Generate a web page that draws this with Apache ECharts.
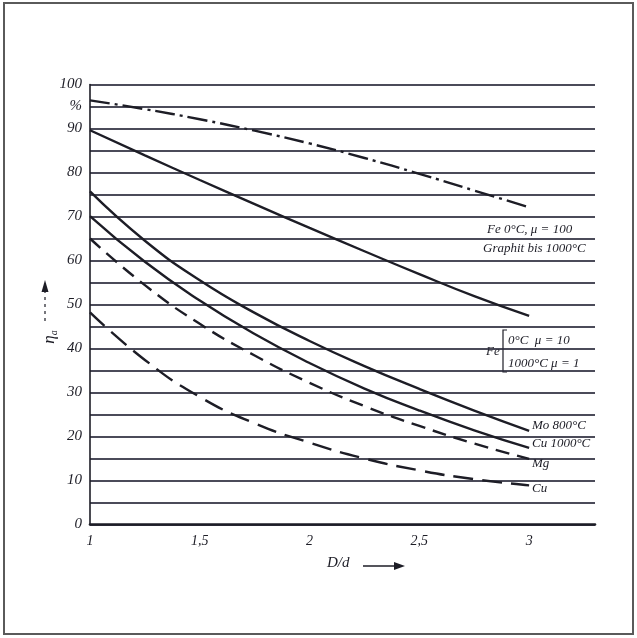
<!DOCTYPE html>
<html>
<head>
<meta charset="utf-8">
<script src="https://cdn.jsdelivr.net/npm/echarts@6/dist/echarts.min.js"></script>
<style>
  html, body { margin: 0; padding: 0; background: #fff; }
  #chart { width: 637px; height: 638px; }
</style>
</head>
<body>
<div id="chart"></div>
<script>
// Ratio D/d sampled along each curve
const xValues = [1, 1.25, 1.5, 1.75, 2, 2.25, 2.5, 2.75, 3];

// Efficiency (%) for each material
const feMu100 = [96.4, 94.4, 92.1, 89.5, 86.6, 83.3, 79.7, 75.9, 72.1];
const feMu10  = [89.6, 83.9, 78.3, 72.8, 67.4, 62.1, 56.9, 51.9, 47.4];
const mo800   = [75.7, 64.5, 55.5, 48.1, 41.7, 36.0, 30.8, 25.9, 21.3];
const cu1000  = [70.1, 59.7, 50.9, 43.3, 36.7, 30.9, 25.9, 21.4, 17.4];
const mgCold  = [65.0, 54.4, 45.6, 38.4, 32.2, 26.9, 22.4, 18.4, 14.9];
const cuCold  = [48.2, 37.4, 29.0, 23.0, 18.6, 15.0, 12.3, 10.3, 8.9];

// Axis tick labels
const xTickLabels = { 1: '1', 1.5: '1,5', 2: '2', 2.5: '2,5', 3: '3' };
const yTickLabels = { 0: '0', 10: '10', 20: '20', 30: '30', 40: '40', 50: '50',
                      60: '60', 70: '70', 80: '80', 90: '90', 95: '%', 100: '100' };

const pairs = ys => xValues.map((x, i) => [x, ys[i]]);

const INK = '#1d1d26';
const labelFont = { fontFamily: 'Liberation Serif', fontStyle: 'italic', fill: INK };

function curve(name, ys, type) {
  return {
    name, type: 'line', data: pairs(ys), smooth: 0.5, symbol: 'none',
    lineStyle: { color: INK, width: 2.4, type: type },
    z: 5
  };
}

const chart = echarts.init(document.getElementById('chart'), null, { renderer: 'canvas' });

chart.setOption({
  backgroundColor: '#ffffff',
  animation: false,
  grid: { left: 90, right: 42, top: 84.5, bottom: 113.5 },
  xAxis: {
    type: 'value', min: 1, max: 3.3, interval: 0.5,
    axisLine: { show: true, lineStyle: { color: INK, width: 2.6 } },
    axisTick: { show: false },
    splitLine: { show: false },
    axisLabel: {
      margin: 10, color: INK, fontSize: 14, fontStyle: 'italic', fontFamily: 'Liberation Serif',
      formatter: v => (xTickLabels[v] !== undefined ? xTickLabels[v] : '')
    }
  },
  yAxis: {
    type: 'value', min: 0, max: 100, interval: 5,
    axisLine: { show: true, lineStyle: { color: INK, width: 1.6 } },
    axisTick: { show: false },
    splitLine: { show: true, lineStyle: { color: '#2c2c3c', width: 2, opacity: 0.85 } },
    axisLabel: {
      margin: 8, color: INK, fontSize: 15, fontStyle: 'italic', fontFamily: 'Liberation Serif',
      formatter: v => (yTickLabels[v] !== undefined ? yTickLabels[v] : '')
    }
  },
  series: [
    curve('Fe 0°C μ=100 / Graphit', feMu100, [20, 5, 3, 5]),
    curve('Fe 0°C μ=10 / 1000°C μ=1', feMu10, 'solid'),
    curve('Mo 800°C', mo800, 'solid'),
    curve('Cu 1000°C', cu1000, 'solid'),
    curve('Mg', mgCold, [14, 8]),
    curve('Cu', cuCold, [20, 9])
  ],
  graphic: [
    // outer frame
    { type: 'rect', shape: { x: 4, y: 3, width: 629, height: 631 },
      style: { fill: 'none', stroke: '#5a5a5a', lineWidth: 2 }, silent: true },

    // curve annotations
    { type: 'text', left: 487, top: 223, style: Object.assign({ text: 'Fe 0°C, μ = 100', fontSize: 13 }, labelFont) },
    { type: 'text', left: 483, top: 242, style: Object.assign({ text: 'Graphit bis 1000°C', fontSize: 13 }, labelFont) },

    { type: 'text', left: 486, top: 345, style: Object.assign({ text: 'Fe', fontSize: 13 }, labelFont) },
    { type: 'polyline', shape: { points: [[507, 330], [503, 330], [503, 372], [507, 372]] },
      style: { stroke: INK, lineWidth: 1.2, fill: 'none' } },
    { type: 'text', left: 508, top: 334, style: Object.assign({ text: '0°C  μ = 10', fontSize: 13 }, labelFont) },
    { type: 'text', left: 508, top: 357, style: Object.assign({ text: '1000°C μ = 1', fontSize: 13 }, labelFont) },

    { type: 'text', left: 532, top: 419, style: Object.assign({ text: 'Mo 800°C', fontSize: 13 }, labelFont) },
    { type: 'text', left: 532, top: 437, style: Object.assign({ text: 'Cu 1000°C', fontSize: 13 }, labelFont) },
    { type: 'text', left: 532, top: 457, style: Object.assign({ text: 'Mg', fontSize: 13 }, labelFont) },
    { type: 'text', left: 532, top: 482, style: Object.assign({ text: 'Cu', fontSize: 13 }, labelFont) },

    // x-axis title with arrow
    { type: 'text', left: 327, top: 556, style: Object.assign({ text: 'D/d', fontSize: 15 }, labelFont) },
    { type: 'line', shape: { x1: 363, y1: 566, x2: 396, y2: 566 }, style: { stroke: INK, lineWidth: 1.4 } },
    { type: 'polygon', shape: { points: [[405, 566], [394, 562], [394, 570]] }, style: { fill: INK } },

    // y-axis title with dashed arrow
    { type: 'text', x: 50, y: 337, rotation: Math.PI / 2,
      style: { text: '{m|η}{s|a}', align: 'center', verticalAlign: 'middle',
        rich: { m: { fontSize: 17, fontFamily: 'Liberation Serif', fontStyle: 'italic', fill: INK },
                s: { fontSize: 10, fontFamily: 'Liberation Serif', fontStyle: 'italic', fill: INK, padding: [8, 0, 0, 0] } } } },
    { type: 'line', shape: { x1: 45, y1: 321, x2: 45, y2: 291 },
      style: { stroke: INK, lineWidth: 1.2, lineDash: [3, 4] } },
    { type: 'polygon', shape: { points: [[45, 280], [41.5, 292], [48.5, 292]] }, style: { fill: INK } }
  ]
});
</script>
</body>
</html>
